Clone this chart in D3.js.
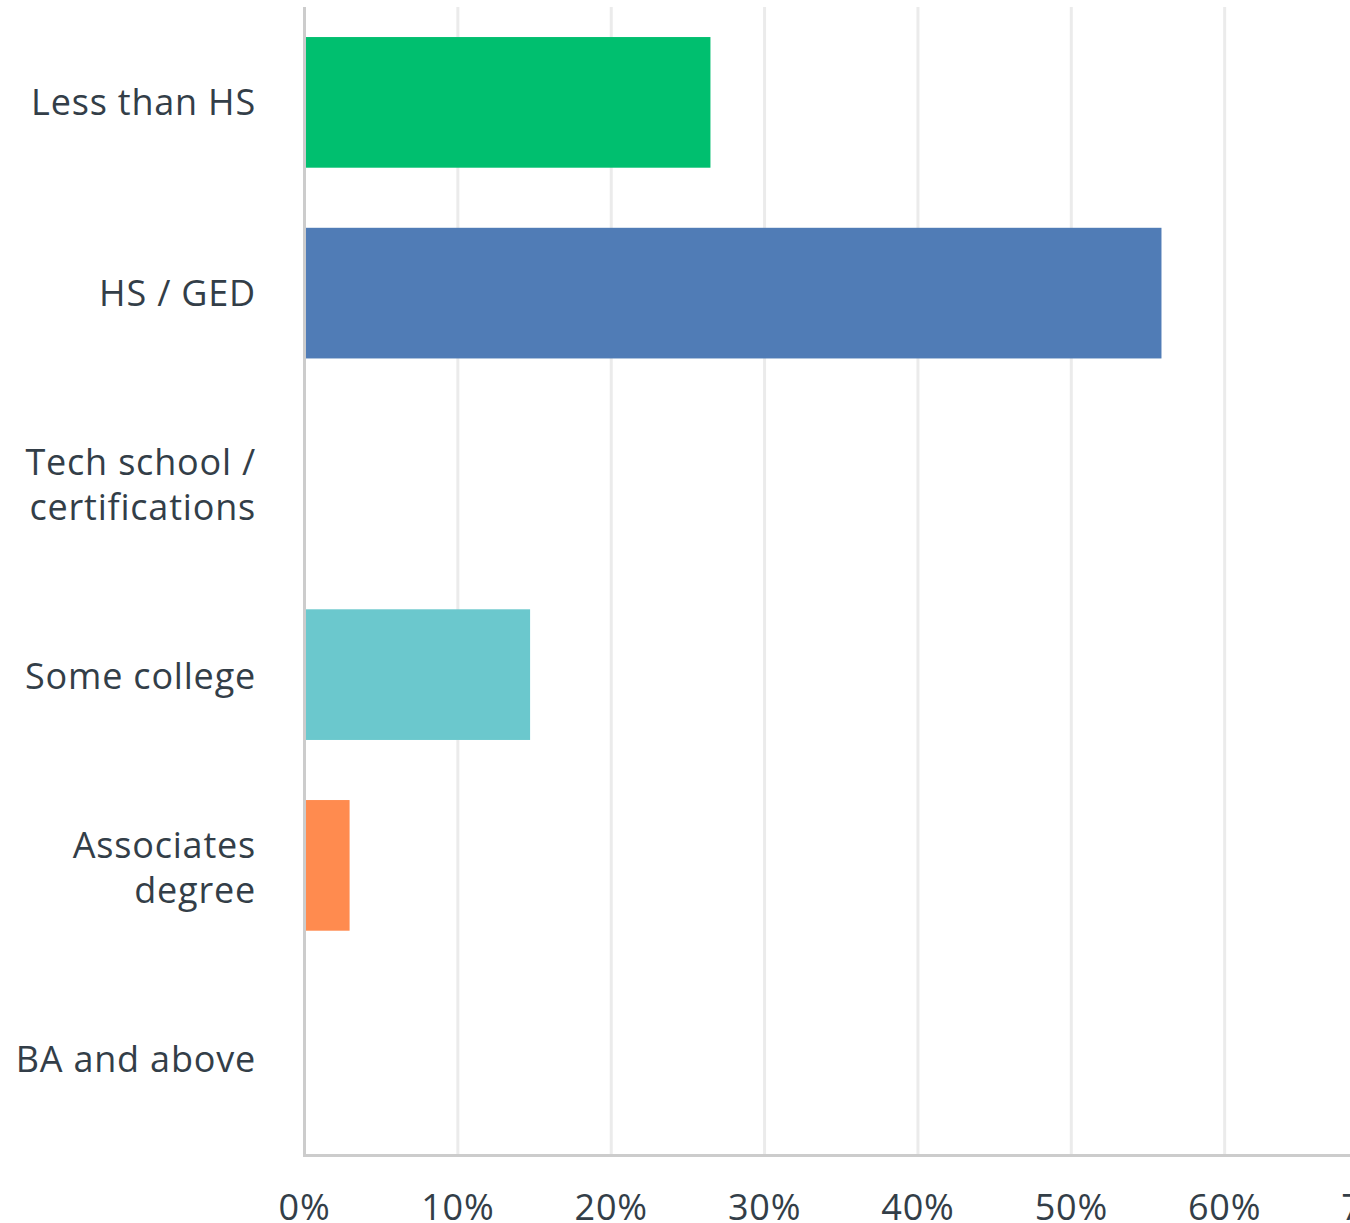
<!DOCTYPE html>
<html>
<head>
<meta charset="utf-8">
<script src="https://cdn.jsdelivr.net/npm/d3@7"></script>
<style>
  html, body { margin: 0; padding: 0; background: #ffffff; }
  svg { display: block; }
  text { font-family: "Open Sans", "Noto Sans", sans-serif; fill: #333e48; letter-spacing: 0.8px; }
</style>
</head>
<body>
<svg id="chart" width="1350" height="1223"></svg>
<script>
// Highest level of education completed (share of respondents, %)
const categories = [
  ["Less than HS"],
  ["HS / GED"],
  ["Tech school /", "certifications"],
  ["Some college"],
  ["Associates", "degree"],
  ["BA and above"]
];
const values = [26.47, 55.88, 0, 14.71, 2.94, 0];
const barColors = ["#00bf6f", "#507cb6", "#f9be00", "#6bc8cd", "#ff8b4f", "#7d6ba8"];
const tickValues = [0, 10, 20, 30, 40, 50, 60, 70];

(function drawChart() {
  const svg = d3.select("#chart");
  const W = 1350;
  const plotLeft = 304.5, plotTop = 7, plotBottom = 1155.5;

  const x = d3.scaleLinear().domain([0, 70]).range([plotLeft, plotLeft + 7 * 153.36]);
  // bar placement
  const y = d3.scaleBand()
    .domain(d3.range(categories.length))
    .range([plotTop, 1151.5])
    .paddingInner(0.315)
    .paddingOuter(0.1575);
  // label slots span the full plot height
  const yLabel = d3.scaleBand()
    .domain(d3.range(categories.length))
    .range([plotTop, plotBottom]);

  // vertical gridlines
  svg.append("g")
    .selectAll("line")
    .data(tickValues.filter(d => d > 0))
    .join("line")
    .attr("x1", d => x(d)).attr("x2", d => x(d))
    .attr("y1", plotTop).attr("y2", plotBottom)
    .attr("stroke", "#ebebeb")
    .attr("stroke-width", 3);

  // bars
  svg.append("g")
    .selectAll("rect")
    .data(values)
    .join("rect")
    .attr("x", x(0))
    .attr("y", (d, i) => y(i))
    .attr("width", d => x(d) - x(0))
    .attr("height", y.bandwidth())
    .attr("fill", (d, i) => barColors[i]);

  // axis lines
  svg.append("line")
    .attr("x1", plotLeft).attr("x2", plotLeft)
    .attr("y1", plotTop).attr("y2", plotBottom + 1.5)
    .attr("stroke", "#cccccc").attr("stroke-width", 3);
  svg.append("line")
    .attr("x1", plotLeft - 1.5).attr("x2", W)
    .attr("y1", plotBottom).attr("y2", plotBottom)
    .attr("stroke", "#cccccc").attr("stroke-width", 3);

  // x tick labels
  svg.append("g")
    .selectAll("text")
    .data(tickValues)
    .join("text")
    .attr("x", d => x(d))
    .attr("y", 1220)
    .attr("text-anchor", "middle")
    .attr("font-size", 36)
    .text(d => d + "%");

  // category labels, wrapped lines centred on each slot
  const lineH = 44.5;
  svg.append("g")
    .selectAll("text")
    .data(categories)
    .join("text")
    .attr("text-anchor", "end")
    .attr("font-size", 36)
    .each(function(lines, i) {
      const t = d3.select(this);
      const y0 = yLabel(i) + yLabel.bandwidth() / 2 + 12 - (lines.length - 1) * lineH / 2;
      lines.forEach((s, k) => {
        t.append("tspan").attr("x", 256).attr("y", y0 + k * lineH).text(s);
      });
    });
})();
</script>
</body>
</html>
